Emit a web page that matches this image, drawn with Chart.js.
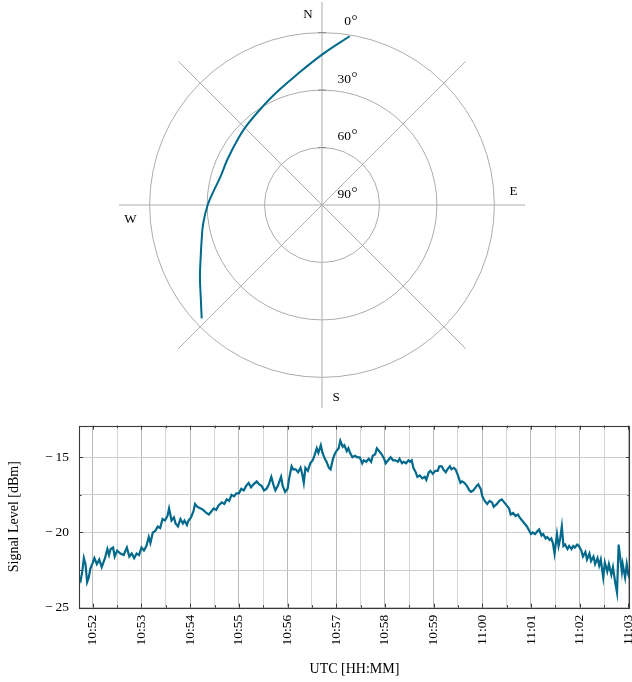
<!DOCTYPE html>
<html>
<head>
<meta charset="utf-8">
<script src="https://cdn.jsdelivr.net/npm/chart.js@4.4.1/dist/chart.umd.min.js"></script>
<style>
  body { margin: 0; background: #fff; }
  #wrap { position: relative; width: 632px; height: 682px; }
  #sky { position: absolute; left: 119px; top: 2px; }
  #signal { position: absolute; left: 0; top: 410px; }
</style>
</head>
<body>
<div id="wrap">
  <canvas id="sky" width="406" height="406"></canvas>
  <canvas id="signal" width="632" height="272"></canvas>
</div>
<script>
// Sky track of the pass (azimuth clockwise from north, elevation in degrees)
const trackAz = [9.3, 0, 348.3, 339.2, 329.5, 315.2, 305, 301, 294.8, 285, 278.1, 270, 261.4, 253.9, 247, 239.6, 232.9, 226.7];
const trackEl = [0.7, 11.5, 21.2, 26.1, 29.8, 33.0, 34.6, 35.0, 35.2, 34.9, 33.2, 30.3, 27.3, 24.6, 21.2, 16.1, 10.6, 3.7];
const compassLabels = ["N", "", "E", "", "S", "", "W", ""];
const elevationTicks = [0, 30, 60, 90];

// Received signal level, sample time in seconds after 10:51:00 UTC
const secondsAfter1051 = [
    43, 45, 47, 49, 51, 53, 55, 57, 60, 62, 65, 68, 71, 75, 78, 80, 82, 85, 87, 90,
    94, 98, 102, 105, 108, 111, 114, 117, 120, 123, 126, 129, 131, 134, 137, 140, 143, 146, 149, 152,
    154, 157, 160, 162, 165, 168, 171, 173, 176, 178, 181, 184, 186, 189, 193, 196, 200, 203, 206, 209,
    212, 215, 219, 222, 225, 228, 231, 234, 237, 240, 243, 246, 249, 252, 255, 258, 262, 265, 268, 271,
    274, 277, 280, 283, 285, 288, 292, 294, 297, 300, 302, 305, 307, 310, 313, 316, 318, 320, 322, 325,
    328, 331, 333, 336, 338, 341, 343, 346, 348, 351, 353, 356, 358, 360, 363, 365, 368, 370, 373, 375,
    377, 380, 383, 386, 389, 392, 394, 397, 400, 403, 405, 408, 410, 413, 416, 419, 421, 424, 427, 430,
    433, 436, 438, 441, 443, 446, 449, 451, 453, 455, 458, 460, 463, 466, 469, 471, 474, 476, 479, 482,
    485, 487, 490, 492, 495, 497, 500, 502, 505, 507, 510, 513, 515, 518, 521, 524, 526, 529, 533, 535,
    538, 540, 543, 546, 549, 552, 554, 558, 561, 564, 567, 570, 573, 575, 578, 581, 584, 586, 589, 592,
    595, 597, 600, 602, 605, 608, 610, 613, 615, 618, 620, 623, 625, 627, 629, 632, 634, 636, 638, 640,
    642, 645, 647, 650, 652, 654, 657, 659, 662, 664, 667, 669, 672, 674, 677, 679, 682, 684, 686, 689,
    691, 694, 696, 699, 701, 704, 706, 708, 710, 712, 713, 716, 718, 720, 722,
];
const signalDbm = [
    -23.0, -23.2, -22.6, -21.7, -22.1, -23.3, -23.0, -22.4, -22.0, -21.7, -22.1, -21.8, -22.3, -21.7, -21.1, -21.5, -21.1, -21.0, -21.6, -21.2,
    -21.4, -21.5, -21.0, -21.6, -21.4, -21.7, -21.4, -21.5, -21.0, -21.2, -20.9, -20.3, -20.7, -20.0, -19.9, -19.6, -19.7, -19.1, -19.2, -18.9,
    -18.4, -19.2, -19.0, -19.4, -19.6, -19.1, -19.4, -19.2, -19.5, -19.2, -19.0, -18.6, -18.1, -18.3, -18.4, -18.5, -18.7, -18.8, -18.6, -18.4,
    -18.5, -18.2, -18.0, -18.1, -17.8, -17.9, -17.5, -17.6, -17.4, -17.4, -17.1, -17.2, -16.9, -16.7, -17.0, -16.8, -16.6, -16.8, -16.9, -17.2,
    -17.1, -16.8, -16.3, -16.9, -17.2, -16.9, -16.3, -16.9, -17.3, -17.1, -16.4, -15.6, -15.8, -15.8, -16.0, -15.7, -16.1, -16.7, -15.7, -15.9,
    -15.4, -15.2, -14.9, -14.4, -14.7, -14.2, -14.7, -15.1, -15.3, -15.7, -15.8, -15.1, -14.8, -14.6, -14.4, -13.9, -14.3, -14.2, -14.6, -14.4,
    -14.7, -15.0, -14.9, -15.0, -15.0, -15.4, -15.2, -15.3, -15.1, -15.3, -14.9, -14.8, -14.4, -14.6, -14.8, -15.1, -15.4, -15.2, -15.0, -15.2,
    -15.2, -15.3, -15.1, -15.4, -15.3, -15.4, -15.2, -15.3, -15.2, -15.7, -16.0, -16.3, -16.2, -16.4, -16.3, -16.5, -16.0, -15.9, -16.1, -15.9,
    -15.9, -15.6, -15.6, -15.8, -16.0, -15.8, -15.6, -15.8, -15.7, -15.8, -16.2, -16.7, -16.6, -16.7, -16.9, -17.2, -17.3, -17.2, -16.9, -16.8,
    -17.1, -17.6, -17.9, -18.1, -17.9, -18.0, -18.3, -18.1, -17.9, -17.8, -18.0, -18.2, -18.4, -18.8, -18.7, -18.9, -18.8, -19.0, -19.2, -19.4,
    -19.6, -19.8, -20.1, -20.0, -20.1, -19.9, -19.8, -20.2, -20.1, -20.4, -20.3, -20.5, -20.4, -20.7, -21.4, -20.1, -20.9, -20.4, -19.6, -20.9,
    -20.8, -21.1, -20.9, -21.1, -20.9, -21.0, -20.8, -20.9, -21.2, -21.6, -21.3, -21.8, -21.4, -21.9, -21.6, -22.1, -21.7, -22.2, -21.8, -23.0,
    -22.0, -22.6, -22.1, -22.8, -22.3, -23.4, -24.0, -20.8, -21.7, -22.6, -22.1, -23.0, -22.1, -22.8, -23.1,
];
const timeTickLabels = ["10:52", "10:53", "10:54", "10:55", "10:56", "10:57", "10:58", "10:59", "11:00", "11:01", "11:02", "11:03"];
const levelTicks = [-25, -22.5, -20, -17.5, -15];

const serif = "'Liberation Serif', 'DejaVu Serif', serif";
const lineColor = "#00698c";
const skyGrid = "#acacac";

Chart.defaults.font.family = serif;
Chart.defaults.color = "#000";

// Seconds after 10:51:00 for an "HH:MM" label
const toSec = (label) => {
    const [h, m] = label.split(":").map(Number);
    return (h * 60 + m - (10 * 60 + 51)) * 60;
};
const minuteTicks = timeTickLabels.map(toSec);

// Compass letters and elevation ring labels
const skyLabels = {
    id: "skyLabels",
    afterDraw(chart) {
        const r = chart.scales.r;
        const ctx = chart.ctx;
        ctx.save();
        ctx.fillStyle = "#000";
        ctx.textAlign = "center";
        ctx.textBaseline = "middle";
        ctx.font = "13px " + serif;
        compassLabels.forEach((text, i) => {
            if (!text) return;
            const a = r.getIndexAngle(i);
            const p = r.getPointPosition(i, r.getDistanceFromCenterForValue(-10));
            ctx.fillText(text, p.x - 14 * Math.cos(a), p.y - 14 * Math.sin(a) + 1);
        });
        ctx.strokeStyle = "#8a8a8a";
        ctx.lineWidth = 1;
        elevationTicks.forEach((v) => {
            const d = r.getDistanceFromCenterForValue(v);
            const y = r.yCenter - d - 11;
            ctx.font = "13.5px " + serif;
            ctx.textAlign = "right";
            ctx.fillText(String(v), r.xCenter + 29, y);
            ctx.font = "15px " + serif;
            ctx.textAlign = "left";
            ctx.fillText("\u00b0", r.xCenter + 29.5, y - 1);
            if (d > 0) {
                ctx.beginPath();
                ctx.moveTo(r.xCenter - 4, r.yCenter - d);
                ctx.lineTo(r.xCenter + 4, r.yCenter - d);
                ctx.stroke();
            }
        });
        ctx.restore();
    },
};

new Chart(document.getElementById("sky"), {
    type: "scatter",
    data: {
        labels: compassLabels,
        datasets: [{
            data: trackAz.map((az, i) => {
                const rho = 90 - trackEl[i];
                const a = (az * Math.PI) / 180;
                return { x: rho * Math.sin(a), y: rho * Math.cos(a) };
            }),
            showLine: true,
            borderColor: lineColor,
            borderWidth: 2,
            pointRadius: 0,
            tension: 0.4,
            fill: false,
        }],
    },
    options: {
        responsive: false,
        animation: false,
        layout: { padding: 0 },
        plugins: { legend: { display: false }, tooltip: { enabled: false } },
        scales: {
            x: { type: "linear", display: false, min: -106, max: 106 },
            y: { type: "linear", display: false, min: -106, max: 106 },
            r: {
                type: "radialLinear",
                min: -16,
                max: 90,
                reverse: true,
                startAngle: 0,
                afterBuildTicks: (scale) => {
                    scale.ticks = elevationTicks.map((value) => ({ value }));
                },
                ticks: { display: false },
                pointLabels: { display: false },
                grid: {
                    circular: true,
                    lineWidth: 1,
                    color: (ctx) => (ctx.tick && ctx.tick.value === 90 ? "rgba(0,0,0,0)" : skyGrid),
                },
                angleLines: { display: true, color: skyGrid, lineWidth: 1 },
            },
        },
    },
    plugins: [skyLabels],
});

// Box round the plot area with inward tick marks
const plotFrame = {
    id: "plotFrame",
    afterDraw(chart) {
        const { ctx, chartArea: a, scales: { x, y } } = chart;
        ctx.save();
        ctx.strokeStyle = "#3a3a3a";
        ctx.lineWidth = 1;
        ctx.beginPath();
        x.ticks.forEach((t) => {
            const px = Math.round(x.getPixelForValue(t.value)) + 0.5;
            const len = t.value % 60 === 0 ? 4 : 2.5;
            ctx.moveTo(px, a.bottom); ctx.lineTo(px, a.bottom - len);
            ctx.moveTo(px, a.top); ctx.lineTo(px, a.top + len);
        });
        y.ticks.forEach((t) => {
            const py = Math.round(y.getPixelForValue(t.value)) + 0.5;
            const len = t.value % 5 === 0 ? 4 : 2.5;
            ctx.moveTo(a.left, py); ctx.lineTo(a.left + len, py);
            ctx.moveTo(a.right, py); ctx.lineTo(a.right - len, py);
        });
        ctx.stroke();
        ctx.lineWidth = 1.1;
        ctx.strokeRect(Math.round(a.left) + 0.5, Math.round(a.top) + 0.5, Math.round(a.width) - 1, Math.round(a.height));
        ctx.restore();
    },
};

new Chart(document.getElementById("signal"), {
    type: "line",
    data: {
        datasets: [{
            data: secondsAfter1051.map((s, i) => ({ x: s, y: signalDbm[i] })),
            borderColor: lineColor,
            borderWidth: 2.2,
            pointRadius: 0,
            tension: 0,
            fill: false,
        }],
    },
    options: {
        responsive: false,
        animation: false,
        layout: { padding: { top: 15.7, right: 2, left: 0, bottom: 0 } },
        plugins: { legend: { display: false }, tooltip: { enabled: false } },
        scales: {
            x: {
                type: "linear",
                min: 43,
                max: 722,
                afterBuildTicks: (scale) => {
                    const ticks = [];
                    minuteTicks.forEach((s, i) => {
                        ticks.push({ value: s });
                        if (i < minuteTicks.length - 1) ticks.push({ value: s + 30 });
                    });
                    scale.ticks = ticks;
                },
                afterFit: (scale) => {
                    scale.height = 74.3;
                    scale.paddingLeft = 0;
                    scale.paddingRight = 0;
                },
                ticks: {
                    autoSkip: false,
                    minRotation: 90,
                    maxRotation: 90,
                    padding: 7,
                    font: { size: 13.5 },
                    callback: (value) => {
                        const i = minuteTicks.indexOf(value);
                        return i >= 0 ? timeTickLabels[i] : "";
                    },
                },
                grid: {
                    drawTicks: false,
                    lineWidth: 1,
                    color: (ctx) => (ctx.tick && ctx.tick.value % 60 === 0 ? "#b9b9b9" : "#d6d6d6"),
                },
                border: { display: false },
                title: {
                    display: true,
                    text: "UTC [HH:MM]",
                    font: { size: 14 },
                    padding: { top: 0, bottom: 4 },
                },
            },
            y: {
                min: -25,
                max: -12.9,
                afterBuildTicks: (scale) => {
                    scale.ticks = levelTicks.map((value) => ({ value }));
                },
                afterFit: (scale) => {
                    scale.width = 79;
                    scale.paddingTop = 0;
                    scale.paddingBottom = 0;
                },
                ticks: {
                    padding: 10,
                    font: { size: 13.5 },
                    callback: (value) => (value % 5 === 0 ? "\u2212\u2009" + Math.abs(value) : ""),
                },
                grid: { drawTicks: false, lineWidth: 1, color: "#cdcdcd" },
                border: { display: false },
                title: {
                    display: true,
                    text: "Signal Level [dBm]",
                    font: { size: 14 },
                    padding: { top: 5.6, bottom: 0 },
                },
            },
        },
    },
    plugins: [plotFrame],
});
</script>
</body>
</html>
